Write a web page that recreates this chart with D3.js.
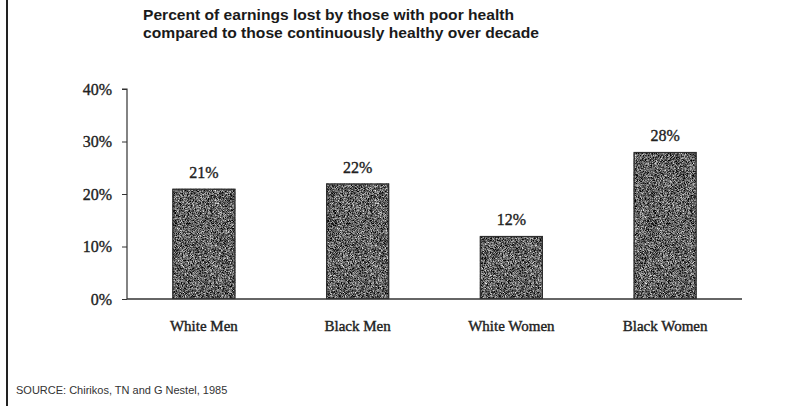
<!DOCTYPE html>
<html>
<head>
<meta charset="utf-8">
<script src="https://cdn.jsdelivr.net/npm/d3@7"></script>
<style>
  html, body { margin: 0; padding: 0; background: #fff; }
  svg { display: block; }
</style>
</head>
<body>
<script>
// Earnings lost to poor health, by group
const categories = ["White Men", "Black Men", "White Women", "Black Women"];
const values = [21, 22, 12, 28];
const yTicks = [0, 10, 20, 30, 40];
const titleLines = [
  "Percent of earnings lost by those with poor health",
  "compared to those continuously healthy over decade"
];
const sourceNote = "SOURCE: Chirikos, TN and G Nestel, 1985";

const W = 801, H = 406;
const svg = d3.select("body").append("svg").attr("width", W).attr("height", H);

// Fine speckled dark-gray fill for the bars
const defs = svg.append("defs");
const f = defs.append("filter").attr("id", "grain")
  .attr("color-interpolation-filters", "sRGB")
  .attr("x", 0).attr("y", 0).attr("width", 1).attr("height", 1);
f.append("feTurbulence").attr("type", "fractalNoise").attr("baseFrequency", 1.6)
  .attr("numOctaves", 2).attr("seed", 5).attr("result", "noise");
f.append("feColorMatrix").attr("in", "noise").attr("type", "matrix")
  .attr("values", "1.6 0 0 0 -0.42  1.6 0 0 0 -0.42  1.6 0 0 0 -0.42  0 0 0 0 1")
  .attr("result", "gray");
f.append("feComposite").attr("in", "gray").attr("in2", "SourceGraphic").attr("operator", "in");

// Page margin rule at the left
svg.append("line").attr("x1", 7).attr("x2", 7).attr("y1", 0).attr("y2", H)
  .attr("stroke", "#222").attr("stroke-width", 2);

const x = d3.scaleBand().domain(categories).range([127, 742]).paddingInner(0.59).paddingOuter(0.295);
const y = d3.scaleLinear().domain([0, 40]).range([299, 89]);

const serif = "'Liberation Serif', 'Times New Roman', serif";

// Title
const titleWidths = [371, 396];
svg.append("g").selectAll("text").data(titleLines).join("text")
  .attr("x", 143).attr("y", (d, i) => 19.5 + i * 18.5)
  .attr("font-family", "'Liberation Sans', Arial, sans-serif")
  .attr("font-weight", "bold").attr("font-size", 15).attr("fill", "#1a1a1a")
  .attr("textLength", (d, i) => titleWidths[i]).attr("lengthAdjust", "spacingAndGlyphs")
  .text(d => d);

// Y axis
const yAxis = d3.axisLeft(y).tickValues(yTicks).tickFormat(d => d + "%").tickSize(5).tickPadding(10);
const gy = svg.append("g").attr("transform", "translate(127,0)").call(yAxis);
gy.attr("font-family", serif);
gy.select(".domain").attr("stroke", "#333").attr("stroke-width", 1.2).attr("d", `M-5,${y(40)}H0V${y(0)}`);
gy.selectAll(".tick line").attr("stroke", "#333");
gy.selectAll(".tick text").attr("font-family", serif)
  .attr("font-size", 16).attr("fill", "#222")
  .attr("stroke", "#222").attr("stroke-width", 0.35);

// Bars
svg.append("g").selectAll("rect").data(values).join("rect")
  .attr("x", (d, i) => x(categories[i]))
  .attr("y", d => y(d))
  .attr("width", x.bandwidth())
  .attr("height", d => y(0) - y(d))
  .attr("fill", "#666")
  .attr("filter", "url(#grain)");
svg.append("g").selectAll("rect").data(values).join("rect")
  .attr("x", (d, i) => x(categories[i]) + 0.5)
  .attr("y", d => y(d) + 0.5)
  .attr("width", x.bandwidth() - 1)
  .attr("height", d => y(0) - y(d) - 1)
  .attr("fill", "none").attr("stroke", "#2e2e2e").attr("stroke-width", 1.2);

// X axis baseline
svg.append("line").attr("x1", 127).attr("x2", 742).attr("y1", y(0)).attr("y2", y(0))
  .attr("stroke", "#333").attr("stroke-width", 1.5);

// Value labels
svg.append("g").selectAll("text").data(values).join("text")
  .attr("x", (d, i) => x(categories[i]) + x.bandwidth() / 2)
  .attr("y", d => y(d) - 11)
  .attr("text-anchor", "middle")
  .attr("font-family", serif)
  .attr("font-size", 16).attr("fill", "#222")
  .attr("stroke", "#222").attr("stroke-width", 0.35)
  .text(d => d + "%");

// Category labels
svg.append("g").selectAll("text").data(categories).join("text")
  .attr("x", d => x(d) + x.bandwidth() / 2)
  .attr("y", 331)
  .attr("text-anchor", "middle")
  .attr("font-family", serif)
  .attr("font-size", 15).attr("fill", "#222")
  .attr("stroke", "#222").attr("stroke-width", 0.4)
  .text(d => d);

// Source note
svg.append("text").attr("x", 16).attr("y", 394)
  .attr("font-family", "'Liberation Sans', Arial, sans-serif")
  .attr("font-size", 11).attr("fill", "#333")
  .text(sourceNote);
</script>
</body>
</html>
